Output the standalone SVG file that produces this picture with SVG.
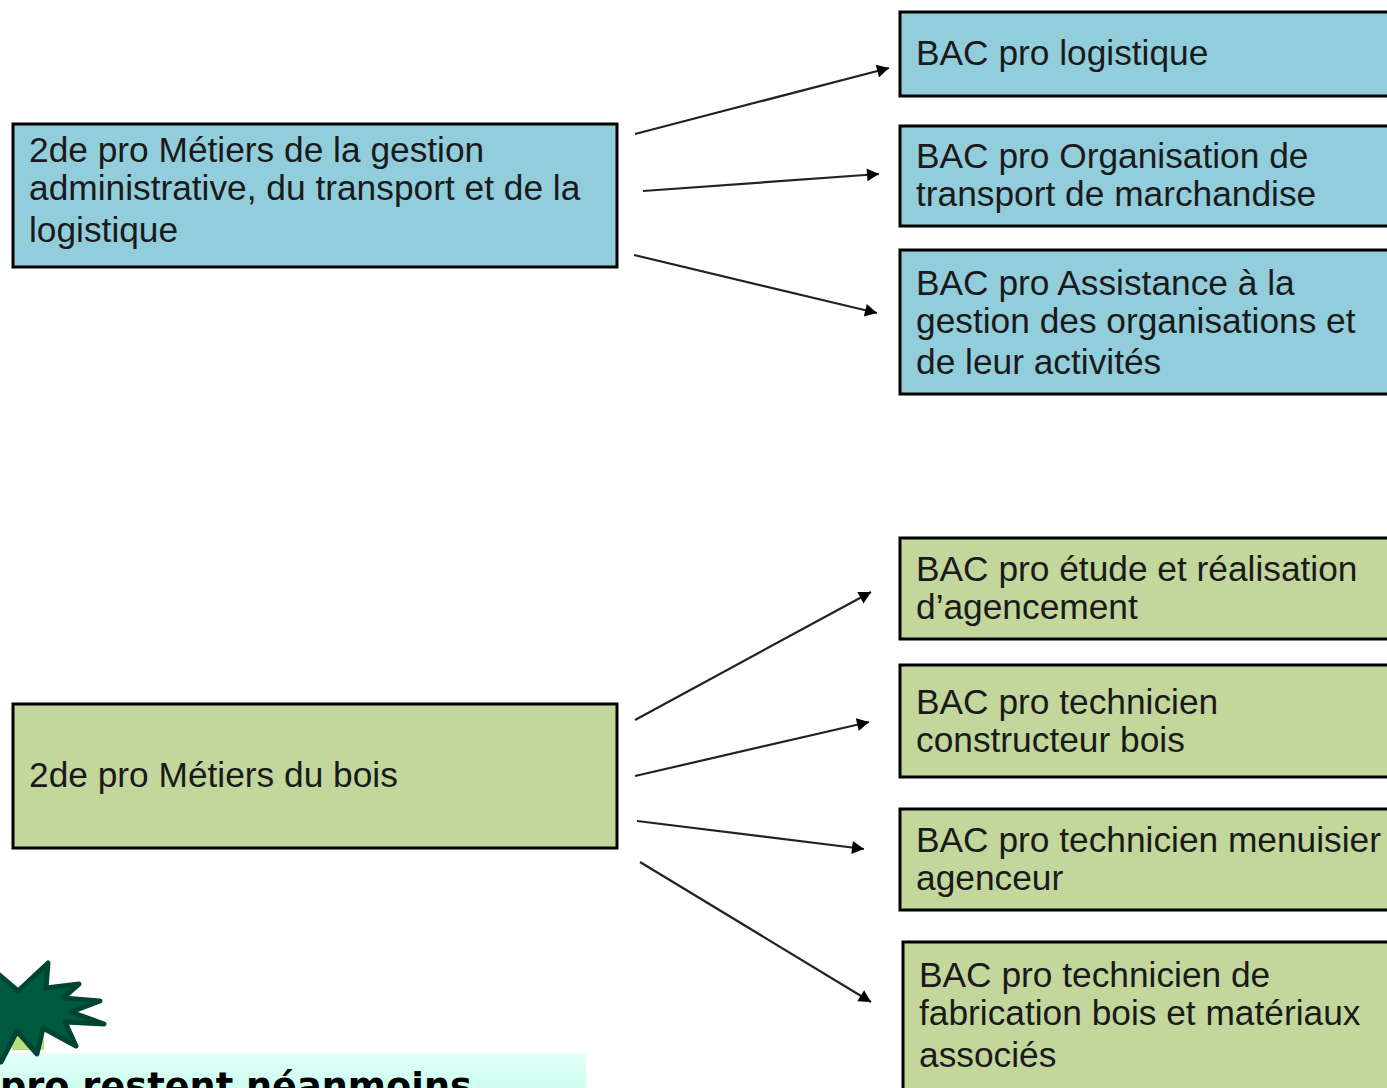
<svg xmlns="http://www.w3.org/2000/svg" width="1387" height="1088" viewBox="0 0 1387 1088">
<style>
.b{fill:#92cddc;stroke:#000;stroke-width:3}
.g{fill:#c3d69b;stroke:#000;stroke-width:3}
text{font-family:"Liberation Sans",Arial,sans-serif;font-size:35.3px;fill:#1a1a1a}
.c line{stroke:#222;stroke-width:2.2;marker-end:url(#a)}
</style>
<defs>
<marker id="a" markerUnits="userSpaceOnUse" markerWidth="15" markerHeight="16" refX="13" refY="8" orient="auto"><path d="M1 1.5L13 8L1 14.5z" fill="#000"/></marker>
<linearGradient id="bg" x1="0" y1="0" x2="0" y2="1"><stop offset="0" stop-color="#e4fff8"/><stop offset="1" stop-color="#ccfff0"/></linearGradient>
</defs>
<rect width="1387" height="1088" fill="#fff"/>
<g id="n1"><rect class="b" x="13" y="124" width="604" height="143"/><text x="29" y="162">2de pro Métiers de la gestion</text><text x="29" y="200">administrative, du transport et de la</text><text x="29" y="242">logistique</text></g>
<g id="n2"><rect class="b" x="900" y="12" width="500" height="84"/><text x="916" y="65">BAC pro logistique</text></g>
<g id="n3"><rect class="b" x="900" y="126" width="500" height="100"/><text x="916" y="168">BAC pro Organisation de</text><text x="916" y="206">transport de marchandise</text></g>
<g id="n4"><rect class="b" x="900" y="250" width="500" height="144"/><text x="916" y="295">BAC pro Assistance à la</text><text x="916" y="333">gestion des organisations et</text><text x="916" y="374">de leur activités</text></g>
<g id="n5"><rect class="g" x="13" y="704" width="604" height="144"/><text x="29" y="787">2de pro Métiers du bois</text></g>
<g id="n6"><rect class="g" x="900" y="538" width="500" height="101"/><text x="916" y="581">BAC pro étude et réalisation</text><text x="916" y="619">d’agencement</text></g>
<g id="n7"><rect class="g" x="900" y="665" width="500" height="112"/><text x="916" y="714">BAC pro technicien</text><text x="916" y="752">constructeur bois</text></g>
<g id="n8"><rect class="g" x="900" y="809" width="500" height="101"/><text x="916" y="852">BAC pro technicien menuisier</text><text x="916" y="890">agenceur</text></g>
<g id="n9"><rect class="g" x="903" y="942" width="500" height="160"/><text x="919" y="987">BAC pro technicien de</text><text x="919" y="1025">fabrication bois et matériaux</text><text x="919" y="1067">associés</text></g>
<g id="connectors" class="c">
<line x1="635" y1="134" x2="889" y2="68"/><line x1="643" y1="191" x2="879" y2="174"/><line x1="634" y1="255" x2="877" y2="313"/>
<line x1="635" y1="720" x2="871" y2="592"/><line x1="635" y1="776" x2="869" y2="722"/><line x1="637" y1="821" x2="864" y2="849"/><line x1="640" y1="862" x2="871" y2="1002"/>
</g>
<g id="note">
<rect x="0" y="1053" width="586" height="35" fill="url(#bg)"/>
<rect x="12" y="1036" width="32" height="14" fill="#b8de7a"/>
<path d="M-3 973L18 991L48 963L46 988L79 984L63 998L100 1001L71 1012L104 1024L65 1022L76 1046L43 1028L37 1054L17 1031L1 1062L-5 1062z" fill="#005a3e" stroke="#004533" stroke-width="5" stroke-linejoin="round"/>
<text x="0" y="1099" style="font-family:'DejaVu Sans',sans-serif;font-weight:700;font-size:36.7px;fill:#000">pro restent néanmoins</text></g>
</svg>
